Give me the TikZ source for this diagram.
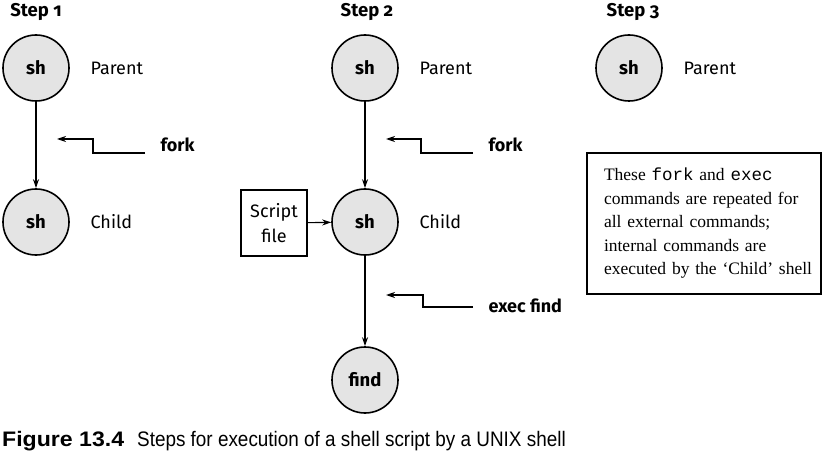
\documentclass[tikz,border=0pt]{standalone}
\usepackage{fontspec}
\setmainfont{Fira Sans}[Numbers=OldStyle]
\newfontfamily\notefont{Liberation Serif}
\newfontfamily\notemono{Liberation Mono}
\newfontfamily\capfont{Liberation Sans}[FakeStretch=0.9]
\newfontfamily\capboldfont{Liberation Sans}[FakeStretch=1.1]
\usetikzlibrary{arrows.meta}
\definecolor{shgray}{HTML}{E4E4E4}

\begin{document}
\begin{tikzpicture}[x=1pt,y=-1pt,
        proc/.style={draw,circle,line width=1.6pt,fill=shgray,minimum size=66pt,inner sep=0pt,font=\fontsize{18.5}{21}\selectfont\bfseries},
        lbl/.style={anchor=west,font=\fontsize{18}{21}\selectfont},
        cmd/.style={anchor=west,font=\fontsize{18}{21}\selectfont\bfseries},
        steplbl/.style={font=\fontsize{18.5}{21}\selectfont\bfseries},
        flow/.style={line width=1.1pt,-{Stealth[length=9pt,width=6pt]}}]
        \useasboundingbox (0,0) rectangle (824,457);
        % Titulos de los pasos
        \node[steplbl] (t1) at (36,12) {Step 1};
        \node[steplbl] (t2) at (367,12) {Step 2};
        \node[steplbl] (t3) at (633,12) {Step 3};
        % Paso 1
        \node[proc] (p1) at (36,68) {sh};
        \node[lbl] (p1l) at (87,68) {Parent};
        \node[proc] (c1) at (36,222) {sh};
        \node[lbl] (c1l) at (87,222) {Child};
        \draw[flow] (p1) -- (c1);
        \node[cmd] (f1) at (157,145) {fork};
        \coordinate (f1a) at (145,153);
        \coordinate (f1b) at (93,139);
        \coordinate (f1c) at (57,139);
        \draw[flow] (f1a) -| (f1b) -- (f1c);
        % Paso 2
        \node[proc] (p2) at (365,68) {sh};
        \node[lbl] (p2l) at (416,68) {Parent};
        \node[proc] (c2) at (365,222) {sh};
        \node[lbl] (c2l) at (416,222) {Child};
        \node[proc] (fd) at (365,380) {find};
        \node[draw,line width=1.6pt,minimum size=66pt,inner sep=0pt,align=center,font=\fontsize{18}{25}\selectfont] (sf) at (274,223) {Script\\file};
        \draw[flow] (p2) -- (c2);
        \draw[flow] (c2) -- (fd);
        \draw[flow] (sf) -- (c2);
        \node[cmd] (f2) at (485,145) {fork};
        \coordinate (f2a) at (473,153);
        \coordinate (f2b) at (421,139);
        \coordinate (f2c) at (386,139);
        \draw[flow] (f2a) -| (f2b) -- (f2c);
        \node[cmd] (ex) at (485,306) {exec find};
        \coordinate (exa) at (473,307);
        \coordinate (exb) at (423,295);
        \coordinate (exc) at (386,295);
        \draw[flow] (exa) -| (exb) -- (exc);
        % Paso 3
        \node[proc] (p3) at (629,68) {sh};
        \node[lbl] (p3l) at (680,68) {Parent};
        % Nota
        \node[draw,line width=1.6pt,minimum width=234pt,minimum height=141pt,inner xsep=17pt,text width=200pt,font=\notefont\fontsize{17.5}{23.5}\selectfont,align=left] (nt) at (704,223.5)
            {These {\notemono fork} and {\notemono exec}\\commands are repeated for\\all external commands;\\internal commands are\\\mbox{executed by the ‘Child’ shell}};
        % Pie de figura
        \node[anchor=west,inner sep=0pt,font=\capfont\fontsize{21}{24}\selectfont] (cap) at (2,441) {{\capboldfont\bfseries Figure 13.4}\hspace{13pt}Steps for execution of a shell script by a UNIX shell};
    \end{tikzpicture}
\end{document}
